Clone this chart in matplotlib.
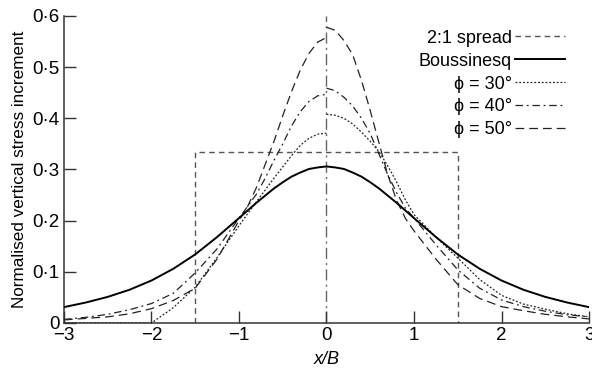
import matplotlib
matplotlib.use("Agg")
from matplotlib import pyplot as plt

plt.rcParams['font.family'] = ['Liberation Sans', 'DejaVu Sans']
plt.rcParams['font.size'] = 13

# Boussinesq (symmetric)
x_bous = [-3, -2.75, -2.5, -2.25, -2, -1.75, -1.5, -1.25, -1, -0.9, -0.8, -0.7, -0.6, -0.5, -0.4,
          -0.3, -0.2, -0.1, 0, 0.1, 0.2, 0.3, 0.4, 0.5, 0.6, 0.7, 0.8, 0.9, 1, 1.25, 1.5, 1.75,
          2, 2.25, 2.5, 2.75, 3]
y_bous = [0.031, 0.040, 0.051, 0.065, 0.083, 0.106, 0.134, 0.168, 0.205, 0.220, 0.235, 0.249, 0.263,
          0.275, 0.286, 0.294, 0.301, 0.304, 0.306, 0.304, 0.301, 0.294, 0.286, 0.275, 0.263, 0.249,
          0.235, 0.220, 0.205, 0.168, 0.134, 0.106, 0.083, 0.065, 0.051, 0.040, 0.031]

# phi curves: left half and right half
x_left = [-3, -2.75, -2.5, -2.25, -2, -1.75, -1.5, -1.25, -1, -0.9, -0.8, -0.7, -0.6, -0.5,
          -0.4, -0.3, -0.2, -0.1, 0]
y30_left = [0.0, 0.0, 0.0, 0.0, 0.0, 0.030, 0.070, 0.128, 0.190, 0.214, 0.237, 0.260, 0.283, 0.305,
            0.327, 0.347, 0.361, 0.369, 0.371]
y40_left = [0.007, 0.011, 0.017, 0.026, 0.038, 0.058, 0.098, 0.145, 0.205, 0.228, 0.252, 0.283, 0.318,
            0.350, 0.385, 0.413, 0.433, 0.444, 0.447]
y50_left = [0.006, 0.009, 0.012, 0.018, 0.028, 0.044, 0.068, 0.125, 0.200, 0.228, 0.265, 0.310, 0.355,
            0.405, 0.452, 0.494, 0.527, 0.549, 0.558]

x_right = [0, 0.1, 0.2, 0.3, 0.4, 0.5, 0.6, 0.7, 0.8, 0.9, 1, 1.25, 1.5, 1.75, 2, 2.25, 2.5, 2.75, 3]
y30_right = [0.408, 0.406, 0.400, 0.389, 0.373, 0.355, 0.335, 0.307, 0.276, 0.241, 0.212, 0.168, 0.127,
             0.085, 0.054, 0.037, 0.027, 0.018, 0.012]
y40_right = [0.459, 0.454, 0.441, 0.424, 0.400, 0.370, 0.330, 0.290, 0.255, 0.225, 0.205, 0.153, 0.104,
             0.068, 0.045, 0.032, 0.023, 0.016, 0.012]
y50_right = [0.578, 0.572, 0.552, 0.524, 0.474, 0.415, 0.352, 0.290, 0.240, 0.205, 0.180, 0.125, 0.075,
             0.048, 0.032, 0.024, 0.017, 0.012, 0.008]

# 2:1 spread
x_spread = [-1.5, -1.5, 1.5, 1.5]
y_spread = [0, 1 / 3, 1 / 3, 0]

xticks = [-3, -2, -1, 0, 1, 2, 3]
xticklabels = ['\u22123', '\u22122', '\u22121', '0', '1', '2', '3']
yticks = [0, 0.1, 0.2, 0.3, 0.4, 0.5, 0.6]
yticklabels = ['0', '0\u00b71', '0\u00b72', '0\u00b73', '0\u00b74', '0\u00b75', '0\u00b76']

fig = plt.figure(figsize=(5.92, 3.71), dpi=100)
ax = fig.add_axes([0.108, 0.1294, 0.887, 0.8275])

ink = '#222222'
s30 = (0, (1.5, 1.5))
s40 = (0, (6, 3, 1.5, 3))
s50 = (0, (7, 4))

ax.plot([0, 0], [0, 0.6], color='#666666', lw=1.0, ls=(0, (8, 3, 1.5, 3)), zorder=1)
ax.plot(x_spread, y_spread, color='#555555', lw=1.0, ls=(0, (4, 3)), label='2:1 spread', zorder=2)
ax.plot(x_bous, y_bous, color='black', lw=1.4, label='Boussinesq', zorder=4)
ax.plot(x_left, y30_left, color=ink, lw=0.9, ls=s30, label='\u03d5 = 30\u00b0', zorder=3)
ax.plot(x_right, y30_right, color=ink, lw=0.9, ls=s30, zorder=3)
ax.plot(x_left, y40_left, color=ink, lw=0.9, ls=s40, label='\u03d5 = 40\u00b0', zorder=3)
ax.plot(x_right, y40_right, color=ink, lw=0.9, ls=s40, zorder=3)
ax.plot(x_left, y50_left, color=ink, lw=0.9, ls=s50, label='\u03d5 = 50\u00b0', zorder=3)
ax.plot(x_right, y50_right, color=ink, lw=0.9, ls=s50, zorder=3)

ax.set_xlim(-3, 3)
ax.set_ylim(0, 0.6)
ax.set_xticks(xticks)
ax.set_xticklabels(xticklabels)
ax.set_yticks(yticks)
ax.set_yticklabels(yticklabels)
ax.tick_params(direction='in', length=8.5, width=1.0, color='#333333', labelsize=13.5, pad=3)
ax.tick_params(axis='x', pad=3)
for side in ['top', 'right']:
    ax.spines[side].set_visible(False)
for side in ['left', 'bottom']:
    ax.spines[side].set_color('#333333')
    ax.spines[side].set_linewidth(1.1)

ax.set_xlabel('x/B', style='italic', fontsize=13, labelpad=5)
ax.set_ylabel('Normalised vertical stress increment', fontsize=12.3, labelpad=4)

ax.legend(loc='upper right', bbox_to_anchor=(0.972, 0.985), frameon=False, markerfirst=False,
          handlelength=2.8, handletextpad=0.15, labelspacing=0.33, borderpad=0, fontsize=13)

plt.savefig('out.png', dpi=100)
